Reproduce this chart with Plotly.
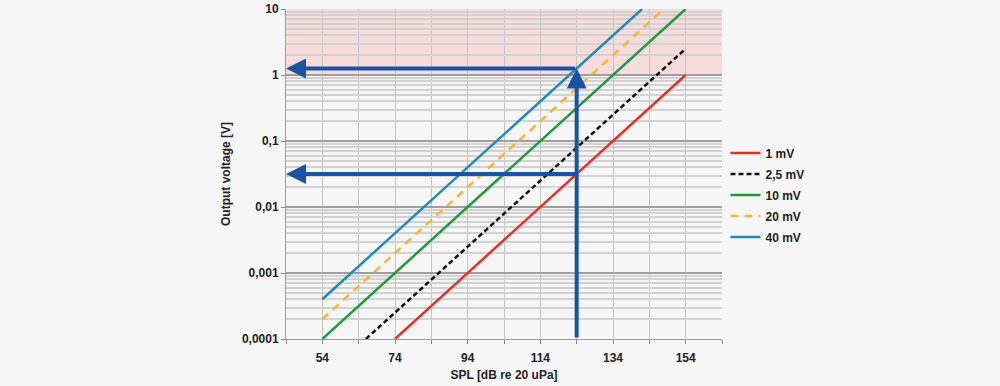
import math
import plotly.graph_objects as go

# ---- data ----
spl_1mV = [74, 94, 114, 134, 154]
v_1mV = [0.0001, 0.001, 0.01, 0.1, 1]
spl_2_5mV = [66, 94, 114, 134, 154]
v_2_5mV = [0.0001, 0.0025, 0.025, 0.25, 2.5]
spl_10mV = [54, 74, 94, 114, 134, 154]
v_10mV = [0.0001, 0.001, 0.01, 0.1, 1, 10]
spl_20mV = [54, 74, 94, 114, 134, 148]
v_20mV = [0.0002, 0.002, 0.02, 0.2, 2, 10]
spl_40mV = [54, 74, 94, 114, 134, 142]
v_40mV = [0.0004, 0.004, 0.04, 0.4, 4, 10]

series_names = ["1 mV", "2,5 mV", "10 mV", "20 mV", "40 mV"]

arrow_spl = 124
arrow_levels = [1.26, 0.0316]

x_tickvals = [54, 74, 94, 114, 134, 154]
y_tickvals = [0.0001, 0.001, 0.01, 0.1, 1, 10]
y_ticktext = ["0,0001", "0,001", "0,01", "0,1", "1", "10"]

FONT = "Liberation Sans"
BG = "#f6f6f6"
ARROW = "#1c52a6"

fig = go.Figure()

styles = [
    dict(color="#e2312b", width=2.5),
    dict(color="#111111", width=2.5, dash="5px,3px"),
    dict(color="#1f9a3c", width=2.5),
    dict(color="#f4b43a", width=2.5, dash="8px,6px"),
    dict(color="#2489b4", width=2.5),
]
xs = [spl_1mV, spl_2_5mV, spl_10mV, spl_20mV, spl_40mV]
ys = [v_1mV, v_2_5mV, v_10mV, v_20mV, v_40mV]
for name, x, y, st in zip(series_names, xs, ys, styles):
    fig.add_trace(go.Scatter(x=x, y=y, mode="lines", name=name, line=st,
                             legendgroup=name))

# pink overload region (top decade of the plot)
fig.add_shape(type="rect", xref="x domain", yref="y domain", x0=0, x1=1, y0=0.8, y1=1,
              fillcolor="#f7dcdc", line_width=0, layer="below")

# arrows
for lvl in arrow_levels:
    fig.add_annotation(x=44, y=math.log10(lvl), ax=arrow_spl, ay=math.log10(lvl),
                       xref="x", yref="y", axref="x", ayref="y", text="",
                       showarrow=True, arrowhead=2, arrowsize=1.0, arrowwidth=4,
                       arrowcolor=ARROW, standoff=0, startstandoff=0)
fig.add_annotation(x=arrow_spl, y=math.log10(arrow_levels[0]), ax=arrow_spl, ay=-4,
                   xref="x", yref="y", axref="x", ayref="y", text="",
                   showarrow=True, arrowhead=2, arrowsize=1.0, arrowwidth=4,
                   arrowcolor=ARROW, standoff=0, startstandoff=0)

bold = dict(family=FONT, size=12, color="#222222", weight="bold")

fig.update_layout(
    width=1000, height=386,
    margin=dict(l=286, r=278, t=9, b=47, autoexpand=False),
    paper_bgcolor=BG, plot_bgcolor=BG,
    font=bold,
    showlegend=True,
    legend=dict(x=1.008, xanchor="left", y=0.436, yanchor="middle",
                bgcolor="rgba(0,0,0,0)", font=bold, tracegroupgap=2,
                itemwidth=30),
    xaxis=dict(range=[44, 164], tickmode="array", tickvals=x_tickvals,
               showgrid=True, gridcolor="#c4c4c4", gridwidth=1,
               ticks="", tickfont=bold, zeroline=False, automargin=False,
               ticklabelstandoff=8,
               showline=True, linecolor="#9a9a9a",
               minor=dict(tick0=44, dtick=10, showgrid=True, gridcolor="#c4c4c4",
                          ticks="outside", ticklen=4, tickcolor="#8a8a8a"),
               title=dict(text="SPL [dB re 20 uPa]", font=bold, standoff=6)),
    yaxis=dict(type="log", range=[-4, 1], tickmode="array", tickvals=y_tickvals,
               ticktext=y_ticktext, showgrid=True, gridcolor="#9e9e9e", gridwidth=1.5,
               ticks="outside", ticklen=4, tickcolor="#8a8a8a", tickfont=bold,
               showline=True, linecolor="#9a9a9a", zeroline=False, automargin=False,
               minor=dict(dtick="D1", showgrid=True, gridcolor="#d2d2d2", ticks=""),
               title=dict(text="Output voltage [V]", font=bold, standoff=8)),
)

fig.write_html("out.html")
